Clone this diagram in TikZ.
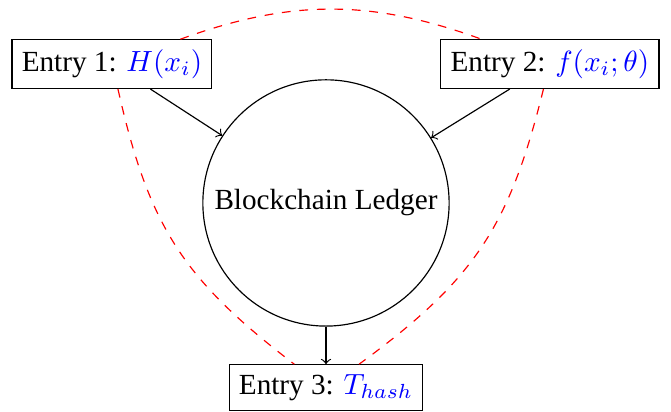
\documentclass[tikz,border=0pt]{standalone}
\usepackage{fontspec}
\setmainfont{Liberation Serif}
\begin{document}
\begin{tikzpicture}[auto]
            \useasboundingbox (-3.924,-2.516) rectangle (4.153,2.443);

            \node[draw,circle] (ledger) at (0,0) {Blockchain Ledger};
            \node[draw] (entry1) at (-2.576,1.671) {Entry 1: \textcolor{blue}{$H(x_i)$}};
            \node[draw] (entry2) at (2.696,1.671) {Entry 2: \textcolor{blue}{$f(x_i;\theta)$}};
            \node[draw] (entry3) at (0,-2.223) {Entry 3: \textcolor{blue}{$T_{hash}$}};

            \path[draw,->] (entry1) -- (ledger);
            \path[draw,->] (entry2) -- (ledger);
            \path[draw,->] (ledger) -- (entry3);

            \path[draw,red,dashed] (entry1) to[bend left=20] (entry2)
                                   (entry1) to[bend right=20,looseness=1.1] (entry3)
                                   (entry2) to[bend left=20,looseness=1.1] (entry3);
\end{tikzpicture}
\end{document}
